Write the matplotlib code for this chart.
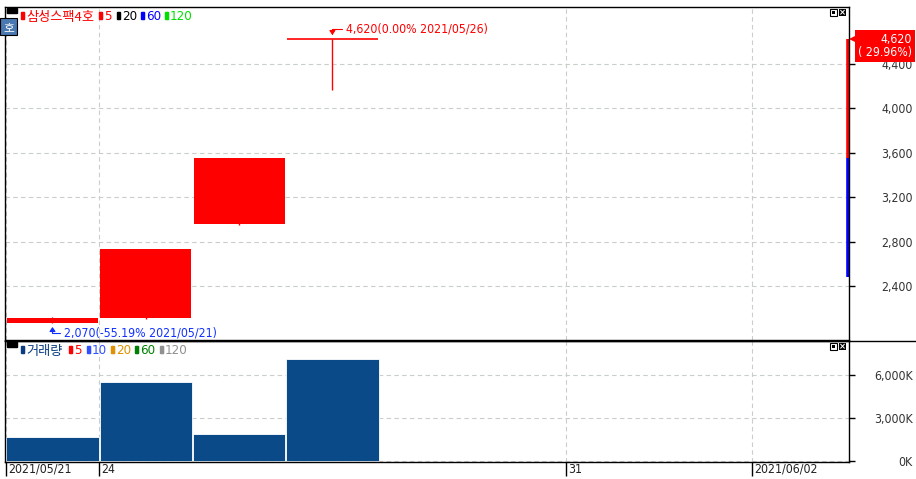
import matplotlib
matplotlib.use('Agg')
import matplotlib.pyplot as plt
from matplotlib.patches import Rectangle
from matplotlib.lines import Line2D

# daily candles, slot 0 = 2021/05/21 (trading days only)
opens = [2070, 2115, 2960, 4620]
highs = [2120, 2735, 3555, 4620]
lows = [2070, 2100, 2950, 4165]
closes = [2110, 2735, 3555, 4620]
volumes = [1700, 5520, 1910, 7110]  # thousand shares

price_ticks = [2400, 2800, 3200, 3600, 4000, 4400]
volume_ticks = [0, 3000, 6000]
date_ticks = [0, 1, 6, 8]
date_labels = ['2021/05/21', '24', '31', '2021/06/02']

prev_close = 3555
last_price = 4620
period_low = 2485
max_note = '4,620(0.00% 2021/05/26)'
min_note = '2,070(-55.19% 2021/05/21)'
price_box = '4,620\n( 29.96%)'

W, H = 916, 479
NUM = dict(family='DejaVu Sans', fontstretch='condensed', fontsize=8.8)
KR_FONT = ['Noto Sans CJK KR', 'DejaVu Sans']
RED = '#ff0000'
GRID = '#c8cec8'


def box(x0, y0, x1, y1):
    # pixel box (top-left origin) -> figure fraction rect
    return [x0 / W, 1 - y1 / H, (x1 - x0) / W, (y1 - y0) / H]


def px(x, y):
    return x / W, 1 - y / H


fig = plt.figure(figsize=(W / 100, H / 100), dpi=100)
ax = fig.add_axes(box(5, 7, 849, 340))
axv = fig.add_axes(box(5, 341, 849, 462), sharex=ax)

# candles
for i, (o, h, l, c) in enumerate(zip(opens, highs, lows, closes)):
    ax.vlines(i, l, h, color=RED, lw=1)
    if o == c:
        ax.hlines(c, i - 0.49, i + 0.49, color=RED, lw=1.2)
    else:
        ax.bar(i, abs(c - o), bottom=min(o, c), width=0.975, color=RED, lw=0)

# volume bars
axv.bar(range(len(volumes)), volumes, width=0.99, color='#0a4a88',
        edgecolor='white', lw=0.6)

ax.set_xlim(-0.509, 8.537)
ax.set_ylim(1914, 4911)
axv.set_ylim(-35, 8363)

bounds = [d - 0.5 for d in date_ticks]
for a in (ax, axv):
    a.set_xticks(bounds)
    a.grid(True, color=GRID, ls=(0, (4, 3)), lw=0.8)
    a.set_axisbelow(True)
    a.yaxis.tick_right()
    for s in a.spines.values():
        s.set_color('black')
        s.set_linewidth(1)
    a.tick_params(axis='y', direction='out', length=4, width=1, pad=42,
                  labelcolor='#333333')

ax.set_yticks(price_ticks)
ax.set_yticklabels([f'{v:,}' for v in price_ticks])
axv.set_yticks(volume_ticks)
axv.set_yticklabels([f'{v:,}K' for v in volume_ticks])
for a in (ax, axv):
    for lab in a.get_yticklabels():
        lab.set_horizontalalignment('right')
        lab.set_family(NUM['family'])
        lab.set_stretch('condensed')
        lab.set_fontsize(NUM['fontsize'])

ax.tick_params(axis='x', bottom=False, labelbottom=False)
axv.tick_params(axis='x', direction='out', length=10, width=1,
                labelbottom=False)
for b, lab in zip(bounds, date_labels):
    axv.annotate(lab, xy=(b, 0), xycoords=('data', 'axes fraction'),
                 xytext=(2, -1), textcoords='offset pixels', ha='left',
                 va='top', color='#222222', **NUM)

# max / min notes
arrow = dict(arrowstyle='-|>,head_length=0.3,head_width=0.2', lw=0.8,
             shrinkA=1, shrinkB=3, relpos=(0, 0.5),
             connectionstyle='angle,angleA=0,angleB=90,rad=0')
i_max = highs.index(max(highs))
ax.annotate(max_note, xy=(i_max, max(highs)), xytext=(14, 10),
            textcoords='offset pixels', ha='left', va='center', color=RED,
            arrowprops=dict(arrow, color=RED), **NUM)
i_min = lows.index(min(lows))
ax.annotate(min_note, xy=(i_min, min(lows)), xytext=(12, -10),
            textcoords='offset pixels', ha='left', va='center',
            color='#1030ff', arrowprops=dict(arrow, color='#1030ff'), **NUM)

# range bar at the right edge
yt = ax.get_yaxis_transform()
ax.plot([0.9985, 0.9985], [prev_close, last_price], transform=yt,
        color=RED, lw=2.6, clip_on=False, solid_capstyle='butt')
ax.plot([0.9985, 0.9985], [period_low, prev_close], transform=yt,
        color='#0000ff', lw=2.6, clip_on=False, solid_capstyle='butt')

# current price box
ax.plot([1.0055], [last_price], transform=yt, marker='<', ms=7,
        color=RED, clip_on=False, mew=0)
ax.annotate(price_box, xy=(1, last_price), xycoords=yt, xytext=(63, 6),
            textcoords='offset pixels', ha='right', va='top',
            multialignment='right', color='white', linespacing=1.0,
            zorder=10,
            bbox=dict(boxstyle='square,pad=0.25', fc=RED, ec='none'), **NUM)

# separator between panels across the full width
fig.add_artist(Line2D([5 / W, 1], [1 - 340.5 / H] * 2, color='black', lw=1))


# legends
def legend(items, yc):
    fig.add_artist(Rectangle(px(7, yc - 3), 10 / W, 5 / H, color='black',
                             transform=fig.transFigure))
    for label, color, x, kr in items:
        fig.add_artist(Rectangle(px(x + 1, yc + 3), 1.5 / W, 7 / H,
                                 color='#c0c0c0', transform=fig.transFigure))
        fig.add_artist(Rectangle(px(x, yc + 3), 2.5 / W, 7 / H, color=color,
                                 transform=fig.transFigure))
        if kr:
            fig.text(*px(x + 5, yc + 2), label, color=color, fontsize=9.5,
                     family=KR_FONT, ha='left', va='center')
        else:
            fig.text(*px(x + 5, yc), label, color=color, ha='left',
                     va='center', **dict(NUM, fontsize=9.5))


legend([('삼성스팩4호', RED, 21, True), ('5', RED, 99, False),
        ('20', 'black', 117, False), ('60', '#0000ff', 141, False),
        ('120', '#00e000', 165, False)], 16)
legend([('거래량', '#0a3c82', 21, True), ('5', RED, 69, False),
        ('10', '#3050ff', 87, False), ('20', '#e09000', 111, False),
        ('60', '#008000', 135, False), ('120', '#909090', 160, False)], 350)

# "호" badge
fig.add_artist(Rectangle(px(0, 35), 17 / W, 17 / H, fc='#4a78b0', ec='black',
                         lw=0.8, transform=fig.transFigure))
fig.text(*px(8.5, 27.5), '호', color='white', fontsize=8.5, family=KR_FONT,
         ha='center', va='center')

# window buttons
for yb in (9, 343):
    fig.add_artist(Rectangle(px(830, yb + 7), 7 / W, 7 / H, fc='white',
                             ec='black', lw=0.8, transform=fig.transFigure))
    fig.add_artist(Rectangle(px(832, yb + 5), 3 / W, 3 / H, fc='black',
                             transform=fig.transFigure))
    fig.add_artist(Rectangle(px(839, yb + 7), 7 / W, 7 / H, fc='black',
                             transform=fig.transFigure))
    fig.text(*px(842.5, yb + 3.3), '×', color='white', fontsize=6,
             ha='center', va='center', weight='bold')

fig.savefig('out.png', dpi=100)
